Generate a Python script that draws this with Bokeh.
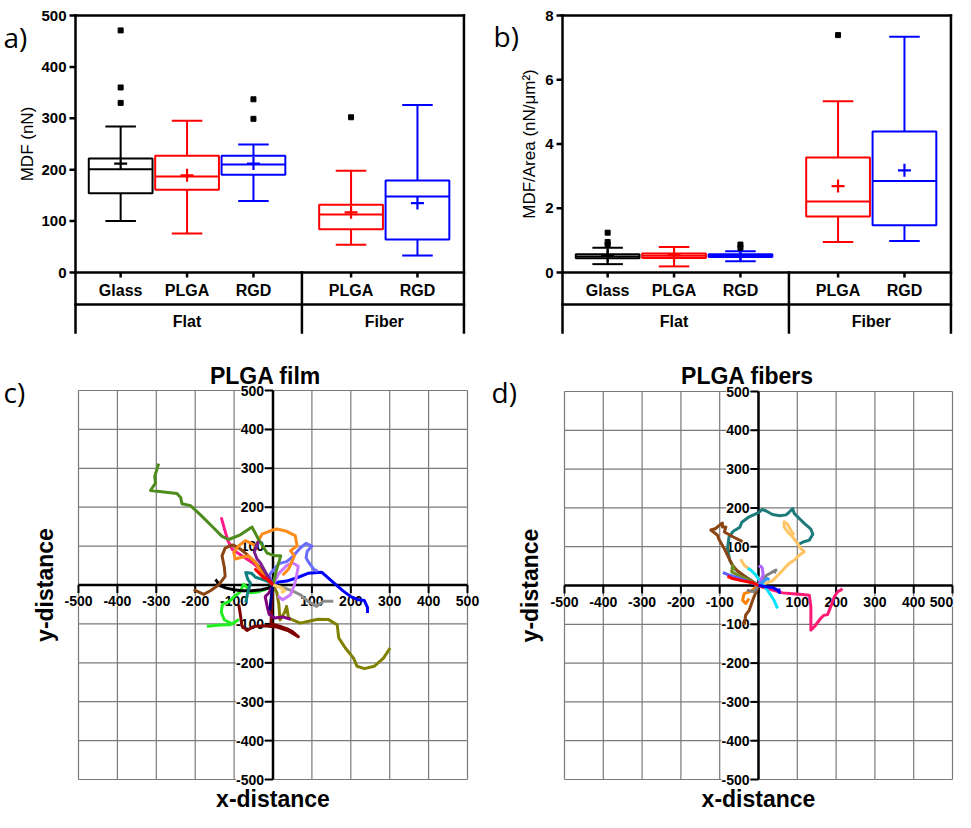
import math
from bokeh.plotting import figure
from bokeh.layouts import column, row
from bokeh.models import Range1d
from bokeh.core.properties import value
from bokeh.embed import file_html
from bokeh.resources import INLINE

FONT = "Liberation Sans"
LETTER_FONT = "Open Sans"

# ---------------- panels a/b: box plots ----------------
CATEGORIES = ["Glass", "PLGA", "RGD", "PLGA", "RGD"]
GROUPS = ["Flat", "Fiber"]
GROUP_MEMBERS = [[0, 1, 2], [3, 4]]
BOX_POS = [1.0, 2.0, 3.0, 4.47, 5.47]
BOX_COLORS = ["black", "red", "blue", "red", "blue"]

MDF_LO = [100, 76, 139, 54, 33]
MDF_Q1 = [154, 161, 190, 84, 64]
MDF_MED = [201, 187, 210, 113, 148]
MDF_Q3 = [222, 227, 227, 132, 179]
MDF_HI = [284, 295, 249, 198, 326]
MDF_MEAN = [212, 189, 212, 117, 135]
MDF_OUT_GROUP = [0, 0, 0, 2, 2, 3]
MDF_OUT_VAL = [471, 360, 330, 337, 299, 302]
MDF_TICKS = [0, 100, 200, 300, 400, 500]

AREA_LO = [0.26, 0.19, 0.35, 0.95, 0.98]
AREA_Q1 = [0.44, 0.45, 0.48, 1.74, 1.47]
AREA_MED = [0.50, 0.52, 0.53, 2.21, 2.85]
AREA_Q3 = [0.57, 0.59, 0.57, 3.58, 4.39]
AREA_HI = [0.77, 0.79, 0.66, 5.33, 7.34]
AREA_MEAN = [0.52, 0.54, 0.54, 2.69, 3.18]
AREA_OUT_GROUP = [0, 0, 0, 2, 2, 3]
AREA_OUT_VAL = [1.24, 0.95, 0.86, 0.87, 0.77, 7.39]
AREA_TICKS = [0, 2, 4, 6, 8]

# ---------------- panels c/d: trajectories ----------------
GRID_TICKS = [-500, -400, -300, -200, -100, 0, 100, 200, 300, 400, 500]

FILM_OLIVEDRAB_X = [0, 8, 20, 6, -15, -37, -54, -84, -114, -131, -157, -174, -187, -212, -234, -237, -247, -298, -315, -302, -304, -294]
FILM_OLIVEDRAB_Y = [0, 35, 75, 75, 82, 117, 149, 129, 117, 125, 151, 168, 181, 204, 209, 224, 235, 241, 243, 262, 279, 312]
FILM_PINK_X = [0, -20, -50, -80, -105, -116, -125, -133]
FILM_PINK_Y = [0, 30, 55, 75, 92, 114, 145, 174]
FILM_ORANGE_X = [0, -25, -45, -63, -85, -97, -101, -88, -71, -45, -28, -5, 10, 35, 57, 62, 45, 55, 40, 25]
FILM_ORANGE_Y = [0, 25, 58, 75, 70, 67, 84, 101, 114, 101, 131, 140, 144, 138, 127, 101, 88, 75, 41, 25]
FILM_BROWN_X = [0, -20, -45, -71, -90, -105, -123, -131, -125, -123, -140, -160, -178, -204]
FILM_BROWN_Y = [0, 30, 57, 82, 97, 103, 95, 75, 45, 22, 0, -14, -24, -12]
FILM_PURPLE1_X = [0, -15, -33, -41, -48, -38, -45]
FILM_PURPLE1_Y = [0, 25, 58, 67, 85, 110, 100]
FILM_PURPLE2_X = [0, -10, -20, -15, -10, 5, 25, 45]
FILM_PURPLE2_Y = [0, -20, -30, -55, -75, -85, -82, -88]
FILM_VIOLET_X = [0, 15, 35, 50, 65, 60, 55, 45, 25, 12]
FILM_VIOLET_Y = [0, 30, 50, 57, 48, 20, 0, -25, -38, -28]
FILM_PERI_X = [0, -10, 15, 35, 50, 70, 85, 100, 88, 85, 92, 105, 115]
FILM_PERI_Y = [0, 25, 55, 60, 72, 95, 107, 100, 87, 70, 58, 40, 35]
FILM_BLUE_X = [0, 15, 35, 60, 90, 125, 160, 180, 200, 220, 235, 243, 243]
FILM_BLUE_Y = [0, 8, 10, 18, 30, 33, 2, -15, -30, -38, -40, -58, -72]
FILM_GRAY_X = [0, 20, 50, 70, 90, 112, 130, 155]
FILM_GRAY_Y = [0, -5, -15, -25, -42, -55, -42, -42]
FILM_OLIVE_X = [0, 10, 15, 18, 30, 35, 40, 70, 92, 115, 143, 165, 169, 186, 207, 216, 235, 260, 284, 301]
FILM_OLIVE_Y = [0, -20, -50, -90, -70, -55, -85, -98, -93, -88, -89, -102, -136, -162, -188, -209, -215, -209, -188, -162]
FILM_MAROON_X = [0, -3, -5, 15, 35, 50, 65, 40, 10, -25, -50, -67, -80, -84, -88]
FILM_MAROON_Y = [0, -40, -100, -105, -112, -120, -133, -118, -108, -105, -107, -117, -105, -75, -50]
FILM_NAVY_X = [0, -3, -6, -8]
FILM_NAVY_Y = [0, -20, -45, -65]
FILM_LIME_X = [0, -20, -40, -58, -68, -75, -85, -100, -112, -130, -133, -125, -105, -90, -110, -135, -170]
FILM_LIME_Y = [0, -12, -18, -20, -5, 2, -18, -30, -42, -50, -70, -90, -100, -90, -102, -103, -106]
FILM_TEAL_X = [0, -15, -30, -45, -55, -70, -65, -58, -65, -70]
FILM_TEAL_Y = [0, 10, 15, 20, 30, 32, 15, 5, -20, -45]
FILM_BLACK_X = [0, -12, -30, -55, -80, -100, -120, -140, -143, -148]
FILM_BLACK_Y = [0, -8, -12, -15, -15, -12, -8, 0, 8, 14]
FILM_PEACH_X = [0, 15, 25, 30, 20]
FILM_PEACH_Y = [0, -5, -10, -15, -20]
FILM_RED_X = [0, -15, -30, -45, -35, -20]
FILM_RED_Y = [0, 15, 25, 40, 30, 15]

FIBER_TEAL_X = [0, -41, -63, -74, -80, -76, -65, -48, -43, -24, 0, 10, 20, 36, 55, 71, 80, 88, 92, 100, 118, 135, 140, 131, 115, 100]
FIBER_TEAL_Y = [0, 27, 44, 65, 95, 125, 140, 150, 163, 177, 188, 196, 192, 183, 180, 182, 190, 198, 186, 178, 160, 145, 132, 117, 112, 104]
FIBER_PEACH_X = [-46, -37, -20, -3, 15, 36, 58, 79, 92, 105, 118, 109, 101, 88, 75, 66, 66, 75, 83, 92]
FIBER_PEACH_Y = [68, 52, 40, 22, 5, 12, 35, 57, 65, 78, 87, 95, 108, 125, 138, 151, 164, 158, 143, 130]
FIBER_BROWN1_X = [0, -30, -55, -67, -76, -88, -101, -106, -123, -110, -101, -93, -93, -84, -88, -65, -41]
FIBER_BROWN1_Y = [0, 20, 38, 52, 70, 95, 117, 130, 143, 147, 155, 161, 151, 151, 138, 125, 113]
FIBER_OLIVE_X = [0, -33, -54, -69, -67, -62]
FIBER_OLIVE_Y = [0, 18, 27, 35, 52, 40]
FIBER_PERI_X = [0, -40, -76, -86, -92]
FIBER_PERI_Y = [0, 15, 27, 31, 33]
FIBER_RED_X = [-80, -67, -41, -15, 0, 15]
FIBER_RED_Y = [24, 18, 12, 7, 0, -5]
FIBER_CYAN_X = [-28, -20, -7, 6, 23, 40, 49]
FIBER_CYAN_Y = [44, 40, 27, 9, -12, -38, -59]
FIBER_VIOLET_X = [0, 6, 12, 10, 6, 0]
FIBER_VIOLET_Y = [0, 14, 27, 44, 50, 48]
FIBER_GRAY_X = [-30, -11, 0, 19, 36, 45, 40]
FIBER_GRAY_Y = [-12, -16, 0, 25, 35, 40, 32]
FIBER_BLUE_X = [0, 20, 36, 49, 54, 52]
FIBER_BLUE_Y = [0, -3, -5, -12, -18, -8]
FIBER_PINK_X = [0, 36, 62, 88, 113, 131, 135, 135, 135, 145, 160, 168, 178, 186, 195, 204, 212, 216]
FIBER_PINK_Y = [0, -12, -19, -21, -23, -25, -55, -98, -115, -105, -85, -77, -75, -55, -30, -16, -12, -8]
FIBER_ORANGE_X = [0, -20, -37, -41, -33, -24]
FIBER_ORANGE_Y = [0, -15, -21, -38, -46, -34]
FIBER_BROWN2_X = [0, -8, -15, -24, -33, -35, -37]
FIBER_BROWN2_Y = [0, -20, -38, -64, -76, -90, -102]
FIBER_SKY_X = [0, 12, 23, 28]
FIBER_SKY_Y = [0, 10, 18, 15]

FILM_TRACKS = [
    (FILM_OLIVE_X, FILM_OLIVE_Y, "#808000"),
    (FILM_MAROON_X, FILM_MAROON_Y, "#800000"),
    (FILM_LIME_X, FILM_LIME_Y, "#22ee22"),
    (FILM_BLACK_X, FILM_BLACK_Y, "#000000"),
    (FILM_TEAL_X, FILM_TEAL_Y, "#108080"),
    (FILM_BLUE_X, FILM_BLUE_Y, "#0000ff"),
    (FILM_GRAY_X, FILM_GRAY_Y, "#8c8c8c"),
    (FILM_PERI_X, FILM_PERI_Y, "#6b6bff"),
    (FILM_VIOLET_X, FILM_VIOLET_Y, "#cc77ff"),
    (FILM_PINK_X, FILM_PINK_Y, "#ff1a8c"),
    (FILM_BROWN_X, FILM_BROWN_Y, "#8b4513"),
    (FILM_ORANGE_X, FILM_ORANGE_Y, "#ff8c1a"),
    (FILM_OLIVEDRAB_X, FILM_OLIVEDRAB_Y, "#4e8c1e"),
    (FILM_PURPLE1_X, FILM_PURPLE1_Y, "#7a1f8f"),
    (FILM_PURPLE2_X, FILM_PURPLE2_Y, "#800080"),
    (FILM_NAVY_X, FILM_NAVY_Y, "#000080"),
    (FILM_PEACH_X, FILM_PEACH_Y, "#ffcc66"),
    (FILM_RED_X, FILM_RED_Y, "#ff0000"),
]
FIBER_TRACKS = [
    (FIBER_TEAL_X, FIBER_TEAL_Y, "#1e7b7b"),
    (FIBER_PEACH_X, FIBER_PEACH_Y, "#ffc466"),
    (FIBER_BROWN1_X, FIBER_BROWN1_Y, "#8b4513"),
    (FIBER_PINK_X, FIBER_PINK_Y, "#ff1a75"),
    (FIBER_OLIVE_X, FIBER_OLIVE_Y, "#6b8e23"),
    (FIBER_PERI_X, FIBER_PERI_Y, "#6060ff"),
    (FIBER_BROWN2_X, FIBER_BROWN2_Y, "#8b4513"),
    (FIBER_ORANGE_X, FIBER_ORANGE_Y, "#ff8000"),
    (FIBER_CYAN_X, FIBER_CYAN_Y, "#00e5ff"),
    (FIBER_GRAY_X, FIBER_GRAY_Y, "#808080"),
    (FIBER_VIOLET_X, FIBER_VIOLET_Y, "#b366ff"),
    (FIBER_SKY_X, FIBER_SKY_Y, "#3399ff"),
    (FIBER_RED_X, FIBER_RED_Y, "#ff0000"),
    (FIBER_BLUE_X, FIBER_BLUE_Y, "#0000ff"),
]


class Geo:
    """Maps page pixel positions (layout only) to data coordinates."""
    def __init__(self, ox, oy, w, h, apx, aval, kx, apy, avaly, ky):
        self.ox, self.oy, self.w, self.h = ox, oy, w, h
        self.apx, self.aval, self.kx = apx, aval, kx
        self.apy, self.avaly, self.ky = apy, avaly, ky

    def X(self, px):
        return self.aval + (px - self.apx) / self.kx

    def Y(self, py):
        return self.avaly - (py - self.apy) / self.ky


def make_fig(g):
    p = figure(width=g.w, height=g.h,
               x_range=Range1d(g.X(g.ox), g.X(g.ox + g.w)),
               y_range=Range1d(g.Y(g.oy + g.h), g.Y(g.oy)),
               x_axis_location=None, y_axis_location=None, min_border=0,
               output_backend="svg", toolbar_location=None)
    p.outline_line_color = None
    p.background_fill_color = "white"
    p.border_fill_color = "white"
    p.xgrid.grid_line_color = None
    p.ygrid.grid_line_color = None
    p.grid.visible = False
    return p


def txt(p, xs, ys, texts, size, style="bold", align="center",
        baseline="middle", angle=0.0, font=FONT, bg=None):
    kw = {}
    if bg is not None:
        kw["background_fill_color"] = bg
    p.text(x=xs, y=ys, text=texts, text_font=value(font),
           text_font_size=size, text_font_style=style, text_align=align,
           text_baseline=baseline, angle=angle, text_color="black", **kw)


def box_panel(ox, w, axis_px, ymax, yticks, ylabel, label_cx, letter,
              letter_px, letter_py, lo, q1, med, q3, hi, mean, out_g, out_v):
    g = Geo(ox, 8, w, 342, axis_px, 0.32, 66.4, 280, 0.0, 257.0 / ymax)
    p = make_fig(g)
    xl, right_x, sep_x = 0.32, 6.17, 3.73
    ybot = g.Y(340)
    lw = 2.5
    # y axis: ticks, labels, title
    tick_x0 = g.X(axis_px - 6)
    p.segment(x0=[tick_x0] * len(yticks), y0=yticks, x1=[xl] * len(yticks),
              y1=yticks, line_color="black", line_width=lw)
    txt(p, [g.X(axis_px - 9)] * len(yticks), yticks, [str(t) for t in yticks],
        "15px", align="right")
    txt(p, [g.X(label_cx)], [ymax / 2.0], [ylabel], "17px", style="normal",
        angle=math.pi / 2)
    # frame and table lines
    p.segment(x0=[xl, xl, xl, right_x, sep_x, xl],
              y0=[ybot, 0, ymax, ybot, ybot, g.Y(312)],
              x1=[xl, right_x, right_x, right_x, sep_x, right_x],
              y1=[ymax, 0, ymax, ymax, 0, g.Y(312)],
              line_color="black", line_width=lw, line_cap="square")
    p.segment(x0=BOX_POS, y0=[0] * 5, x1=BOX_POS, y1=[g.Y(285)] * 5,
              line_color="black", line_width=lw)
    txt(p, BOX_POS, [g.Y(298)] * 5, CATEGORIES, "16px")
    gx = [sum(BOX_POS[i] for i in m) / len(m) for m in GROUP_MEMBERS]
    txt(p, gx, [g.Y(328.5)] * 2, GROUPS, "16px")

    hw, cw = 0.48, 0.23
    xs = BOX_POS
    p.quad(left=[x - hw for x in xs], right=[x + hw for x in xs],
           bottom=q1, top=q3, fill_color=None, line_color=BOX_COLORS,
           line_width=2)
    p.segment(x0=xs, y0=q3, x1=xs, y1=hi, line_color=BOX_COLORS, line_width=2)
    p.segment(x0=xs, y0=lo, x1=xs, y1=q1, line_color=BOX_COLORS, line_width=2)
    p.segment(x0=[x - cw for x in xs], y0=hi, x1=[x + cw for x in xs], y1=hi,
              line_color=BOX_COLORS, line_width=2)
    p.segment(x0=[x - cw for x in xs], y0=lo, x1=[x + cw for x in xs], y1=lo,
              line_color=BOX_COLORS, line_width=2)
    p.segment(x0=[x - hw for x in xs], y0=med, x1=[x + hw for x in xs], y1=med,
              line_color=BOX_COLORS, line_width=2)
    p.scatter(x=xs, y=mean, marker="cross", size=13, line_color=BOX_COLORS,
              line_width=2.2)
    p.scatter(x=[xs[k] for k in out_g], y=out_v, marker="square", size=5,
              color="black")
    txt(p, [g.X(letter_px)], [g.Y(letter_py)], [letter], "28px",
        style="normal", align="left", baseline="alphabetic", font=LETTER_FONT)
    return p


def track_panel(ox, w, cx, cy, k, title, title_cx, ylab_cx, letter, letter_px,
                tracks):
    g = Geo(ox, 350, w, 470, cx, 0.0, k, cy, 0.0, k)
    p = make_fig(g)
    lo, hi = GRID_TICKS[0], GRID_TICKS[-1]
    n = len(GRID_TICKS)
    # grid
    p.segment(x0=GRID_TICKS, y0=[lo] * n, x1=GRID_TICKS, y1=[hi] * n,
              line_color="#7a7a7a", line_width=1.2)
    p.segment(x0=[lo] * n, y0=GRID_TICKS, x1=[hi] * n, y1=GRID_TICKS,
              line_color="#7a7a7a", line_width=1.2)
    # tick labels (white backing, as in the reference)
    labs = [v for v in GRID_TICKS if v != 0]
    right_lim = g.X(g.ox + g.w - 14)
    lab_x = [min(v, right_lim) for v in labs]
    txt(p, lab_x, [-16 / k] * len(labs), [str(v) for v in labs], "14px",
        bg="white")
    txt(p, [-9 / k] * len(labs), labs, [str(v) for v in labs], "14px",
        align="right", bg="white")
    # central axes with ticks
    tl = 8 / k
    p.segment(x0=[lo, 0], y0=[0, lo], x1=[hi, 0], y1=[0, hi],
              line_color="black", line_width=2.5)
    p.segment(x0=GRID_TICKS, y0=[0] * n, x1=GRID_TICKS, y1=[-tl] * n,
              line_color="black", line_width=2)
    p.segment(x0=[-tl] * n, y0=GRID_TICKS, x1=[0] * n, y1=GRID_TICKS,
              line_color="black", line_width=2)
    # trajectories
    for tx, ty, col in tracks:
        p.line(tx, ty, line_color=col, line_width=3, line_join="round")
    # texts
    txt(p, [g.X(title_cx)], [g.Y(383)], [title], "23px", baseline="alphabetic")
    txt(p, [g.X(ylab_cx)], [0.0], ["y-distance"], "23px", angle=math.pi / 2)
    txt(p, [0.0], [g.Y(806)], ["x-distance"], "23px")
    txt(p, [g.X(letter_px)], [g.Y(399)], [letter], "28px", style="normal",
        align="left", baseline="alphabetic", font=LETTER_FONT)
    return p


pa = box_panel(8, 482, 83, 500, MDF_TICKS, "MDF (nN)", 35, "a)", 11, 44,
               MDF_LO, MDF_Q1, MDF_MED, MDF_Q3, MDF_HI, MDF_MEAN,
               MDF_OUT_GROUP, MDF_OUT_VAL)
pb = box_panel(490, 473, 570, 8, AREA_TICKS, "MDF/Area (nN/\u03bcm\u00b2)", 537,
               "b)", 501, 43, AREA_LO, AREA_Q1, AREA_MED, AREA_Q3, AREA_HI,
               AREA_MEAN, AREA_OUT_GROUP, AREA_OUT_VAL)
pc = track_panel(8, 482, 280.5, 592.5, 0.389, "PLGA film", 273, 52, "c)", 11,
                 FILM_TRACKS)
pd = track_panel(490, 473, 766, 593, 0.388, "PLGA fibers", 755, 537, "d)", 499,
                 FIBER_TRACKS)

layout = column(row(pa, pb), row(pc, pd))
open("out.html", "w").write(file_html(layout, INLINE))
